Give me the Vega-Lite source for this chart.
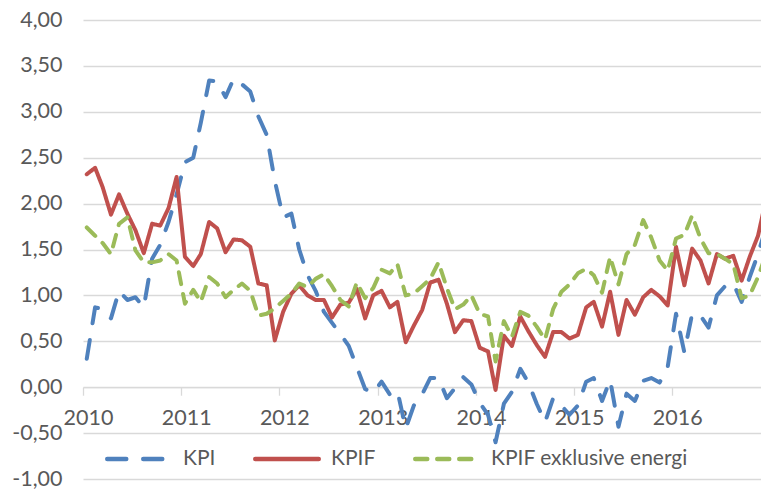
{
  "$schema": "https://vega.github.io/schema/vega-lite/v6.json",
  "width": 678,
  "height": 459,
  "autosize": {"type": "none"},
  "padding": {"left": 83, "top": 20, "right": 0, "bottom": 20},
  "background": "white",
  "config": {"view": {"stroke": null}, "font": "Lato"},
  "data": {"values": [
    {"m": "2010-01-15", "KPI": 0.31, "KPIF": 2.32, "KPIF exklusive energi": 1.74},
    {"m": "2010-02-15", "KPI": 0.87, "KPIF": 2.39, "KPIF exklusive energi": 1.65},
    {"m": "2010-03-15", "KPI": 0.85, "KPIF": 2.18, "KPIF exklusive energi": 1.57},
    {"m": "2010-04-15", "KPI": 0.75, "KPIF": 1.88, "KPIF exklusive energi": 1.45},
    {"m": "2010-05-15", "KPI": 1.05, "KPIF": 2.10, "KPIF exklusive energi": 1.78},
    {"m": "2010-06-15", "KPI": 0.95, "KPIF": 1.89, "KPIF exklusive energi": 1.85},
    {"m": "2010-07-15", "KPI": 0.98, "KPIF": 1.71, "KPIF exklusive energi": 1.49},
    {"m": "2010-08-15", "KPI": 0.87, "KPIF": 1.46, "KPIF exklusive energi": 1.36},
    {"m": "2010-09-15", "KPI": 1.40, "KPIF": 1.78, "KPIF exklusive energi": 1.36},
    {"m": "2010-10-15", "KPI": 1.55, "KPIF": 1.76, "KPIF exklusive energi": 1.38},
    {"m": "2010-11-15", "KPI": 1.80, "KPIF": 1.95, "KPIF exklusive energi": 1.45},
    {"m": "2010-12-15", "KPI": 2.10, "KPIF": 2.29, "KPIF exklusive energi": 1.38},
    {"m": "2011-01-15", "KPI": 2.45, "KPIF": 1.42, "KPIF exklusive energi": 0.91},
    {"m": "2011-02-15", "KPI": 2.50, "KPIF": 1.32, "KPIF exklusive energi": 1.06},
    {"m": "2011-03-15", "KPI": 2.88, "KPIF": 1.45, "KPIF exklusive energi": 0.93},
    {"m": "2011-04-15", "KPI": 3.34, "KPIF": 1.80, "KPIF exklusive energi": 1.20},
    {"m": "2011-05-15", "KPI": 3.33, "KPIF": 1.73, "KPIF exklusive energi": 1.13},
    {"m": "2011-06-15", "KPI": 3.16, "KPIF": 1.47, "KPIF exklusive energi": 0.98},
    {"m": "2011-07-15", "KPI": 3.36, "KPIF": 1.61, "KPIF exklusive energi": 1.06},
    {"m": "2011-08-15", "KPI": 3.30, "KPIF": 1.60, "KPIF exklusive energi": 1.13},
    {"m": "2011-09-15", "KPI": 3.22, "KPIF": 1.53, "KPIF exklusive energi": 1.05},
    {"m": "2011-10-15", "KPI": 2.95, "KPIF": 1.13, "KPIF exklusive energi": 0.78},
    {"m": "2011-11-15", "KPI": 2.75, "KPIF": 1.11, "KPIF exklusive energi": 0.80},
    {"m": "2011-12-15", "KPI": 2.25, "KPIF": 0.51, "KPIF exklusive energi": 0.86},
    {"m": "2012-01-15", "KPI": 1.85, "KPIF": 0.82, "KPIF exklusive energi": 0.94},
    {"m": "2012-02-15", "KPI": 1.89, "KPIF": 1.02, "KPIF exklusive energi": 1.02},
    {"m": "2012-03-15", "KPI": 1.50, "KPIF": 1.11, "KPIF exklusive energi": 1.13},
    {"m": "2012-04-15", "KPI": 1.22, "KPIF": 1.00, "KPIF exklusive energi": 1.09},
    {"m": "2012-05-15", "KPI": 1.05, "KPIF": 0.95, "KPIF exklusive energi": 1.18},
    {"m": "2012-06-15", "KPI": 0.82, "KPIF": 0.95, "KPIF exklusive energi": 1.23},
    {"m": "2012-07-15", "KPI": 0.70, "KPIF": 0.76, "KPIF exklusive energi": 1.10},
    {"m": "2012-08-15", "KPI": 0.58, "KPIF": 0.90, "KPIF exklusive energi": 0.95},
    {"m": "2012-09-15", "KPI": 0.45, "KPIF": 0.92, "KPIF exklusive energi": 0.88},
    {"m": "2012-10-15", "KPI": 0.22, "KPIF": 1.07, "KPIF exklusive energi": 1.14},
    {"m": "2012-11-15", "KPI": -0.02, "KPIF": 0.75, "KPIF exklusive energi": 0.97},
    {"m": "2012-12-15", "KPI": -0.06, "KPIF": 1.00, "KPIF exklusive energi": 1.08},
    {"m": "2013-01-15", "KPI": 0.06, "KPIF": 1.05, "KPIF exklusive energi": 1.28},
    {"m": "2013-02-15", "KPI": -0.08, "KPIF": 0.87, "KPIF exklusive energi": 1.24},
    {"m": "2013-03-15", "KPI": -0.04, "KPIF": 0.93, "KPIF exklusive energi": 1.34},
    {"m": "2013-04-15", "KPI": -0.45, "KPIF": 0.49, "KPIF exklusive energi": 1.00},
    {"m": "2013-05-15", "KPI": -0.20, "KPIF": 0.67, "KPIF exklusive energi": 1.02},
    {"m": "2013-06-15", "KPI": -0.08, "KPIF": 0.84, "KPIF exklusive energi": 1.10},
    {"m": "2013-07-15", "KPI": 0.10, "KPIF": 1.14, "KPIF exklusive energi": 1.18},
    {"m": "2013-08-15", "KPI": 0.10, "KPIF": 1.17, "KPIF exklusive energi": 1.36},
    {"m": "2013-09-15", "KPI": -0.12, "KPIF": 0.91, "KPIF exklusive energi": 1.08},
    {"m": "2013-10-15", "KPI": -0.01, "KPIF": 0.60, "KPIF exklusive energi": 0.85},
    {"m": "2013-11-15", "KPI": 0.11, "KPIF": 0.73, "KPIF exklusive energi": 0.90},
    {"m": "2013-12-15", "KPI": 0.03, "KPIF": 0.72, "KPIF exklusive energi": 1.00},
    {"m": "2014-01-15", "KPI": -0.17, "KPIF": 0.43, "KPIF exklusive energi": 0.80},
    {"m": "2014-02-15", "KPI": -0.30, "KPIF": 0.39, "KPIF exklusive energi": 0.77},
    {"m": "2014-03-15", "KPI": -0.60, "KPIF": -0.03, "KPIF exklusive energi": 0.28},
    {"m": "2014-04-15", "KPI": -0.18, "KPIF": 0.56, "KPIF exklusive energi": 0.72},
    {"m": "2014-05-15", "KPI": -0.05, "KPIF": 0.45, "KPIF exklusive energi": 0.55},
    {"m": "2014-06-15", "KPI": 0.20, "KPIF": 0.77, "KPIF exklusive energi": 0.82},
    {"m": "2014-07-15", "KPI": 0.05, "KPIF": 0.61, "KPIF exklusive energi": 0.78},
    {"m": "2014-08-15", "KPI": -0.18, "KPIF": 0.46, "KPIF exklusive energi": 0.66},
    {"m": "2014-09-15", "KPI": -0.38, "KPIF": 0.33, "KPIF exklusive energi": 0.52},
    {"m": "2014-10-15", "KPI": -0.12, "KPIF": 0.60, "KPIF exklusive energi": 0.85},
    {"m": "2014-11-15", "KPI": -0.20, "KPIF": 0.60, "KPIF exklusive energi": 1.04},
    {"m": "2014-12-15", "KPI": -0.30, "KPIF": 0.53, "KPIF exklusive energi": 1.12},
    {"m": "2015-01-15", "KPI": -0.20, "KPIF": 0.57, "KPIF exklusive energi": 1.24},
    {"m": "2015-02-15", "KPI": 0.06, "KPIF": 0.87, "KPIF exklusive energi": 1.29},
    {"m": "2015-03-15", "KPI": 0.10, "KPIF": 0.93, "KPIF exklusive energi": 1.22},
    {"m": "2015-04-15", "KPI": -0.15, "KPIF": 0.66, "KPIF exklusive energi": 1.03},
    {"m": "2015-05-15", "KPI": 0.08, "KPIF": 1.04, "KPIF exklusive energi": 1.42},
    {"m": "2015-06-15", "KPI": -0.43, "KPIF": 0.57, "KPIF exklusive energi": 1.12},
    {"m": "2015-07-15", "KPI": -0.07, "KPIF": 0.95, "KPIF exklusive energi": 1.45},
    {"m": "2015-08-15", "KPI": -0.15, "KPIF": 0.79, "KPIF exklusive energi": 1.55},
    {"m": "2015-09-15", "KPI": 0.07, "KPIF": 0.98, "KPIF exklusive energi": 1.82},
    {"m": "2015-10-15", "KPI": 0.10, "KPIF": 1.06, "KPIF exklusive energi": 1.63},
    {"m": "2015-11-15", "KPI": 0.05, "KPIF": 0.99, "KPIF exklusive energi": 1.38},
    {"m": "2015-12-15", "KPI": 0.22, "KPIF": 0.89, "KPIF exklusive energi": 1.27},
    {"m": "2016-01-15", "KPI": 0.80, "KPIF": 1.53, "KPIF exklusive energi": 1.62},
    {"m": "2016-02-15", "KPI": 0.38, "KPIF": 1.11, "KPIF exklusive energi": 1.66},
    {"m": "2016-03-15", "KPI": 0.80, "KPIF": 1.51, "KPIF exklusive energi": 1.87},
    {"m": "2016-04-15", "KPI": 0.78, "KPIF": 1.38, "KPIF exklusive energi": 1.62},
    {"m": "2016-05-15", "KPI": 0.65, "KPIF": 1.13, "KPIF exklusive energi": 1.46},
    {"m": "2016-06-15", "KPI": 1.00, "KPIF": 1.45, "KPIF exklusive energi": 1.45},
    {"m": "2016-07-15", "KPI": 1.10, "KPIF": 1.40, "KPIF exklusive energi": 1.40},
    {"m": "2016-08-15", "KPI": 1.13, "KPIF": 1.43, "KPIF exklusive energi": 1.34},
    {"m": "2016-09-15", "KPI": 0.93, "KPIF": 1.16, "KPIF exklusive energi": 0.97},
    {"m": "2016-10-15", "KPI": 1.20, "KPIF": 1.42, "KPIF exklusive energi": 1.00},
    {"m": "2016-11-15", "KPI": 1.45, "KPIF": 1.65, "KPIF exklusive energi": 1.20},
    {"m": "2016-12-15", "KPI": 1.75, "KPIF": 2.05, "KPIF exklusive energi": 1.45}
  ]},
  "transform": [
    {"fold": ["KPI", "KPIF", "KPIF exklusive energi"], "as": ["s", "v"]}
  ],
  "mark": {"type": "line", "strokeWidth": 4, "strokeCap": "round", "strokeJoin": "round", "clip": true},
  "encoding": {
    "x": {
      "field": "m", "type": "temporal",
      "scale": {"type": "utc", "domain": [{"year": 2010, "month": 1, "date": 1, "utc": true}, {"year": 2016, "month": 11, "date": 26, "utc": true}]},
      "axis": {
        "title": null, "orient": "bottom", "offset": -91.8, "format": "%Y", "grid": false,
        "values": [
          {"year": 2010, "month": 1, "date": 1, "utc": true},
          {"year": 2011, "month": 1, "date": 1, "utc": true},
          {"year": 2012, "month": 1, "date": 1, "utc": true},
          {"year": 2013, "month": 1, "date": 1, "utc": true},
          {"year": 2014, "month": 1, "date": 1, "utc": true},
          {"year": 2015, "month": 1, "date": 1, "utc": true},
          {"year": 2016, "month": 1, "date": 1, "utc": true}
        ],
        "labelOffset": 5, "labelAlign": "center", "labelBaseline": "top", "labelFlush": false, "labelOverlap": false,
        "tickSize": 8, "tickColor": "#d9d9d9", "tickWidth": 1.3,
        "domainColor": "#d9d9d9", "domainWidth": 1.3,
        "labelFont": "Lato", "labelFontSize": 21.5, "labelColor": "#595959", "labelPadding": 12
      }
    },
    "y": {
      "field": "v", "type": "quantitative",
      "scale": {"domain": [-1, 4], "nice": false, "zero": false},
      "axis": {
        "title": null, "values": [-1, -0.5, 0, 0.5, 1, 1.5, 2, 2.5, 3, 3.5, 4],
        "labelExpr": "replace(replace(format(datum.value, '.2f'), '.', ','), '\u2212', '-')",
        "grid": true, "gridColor": "#d9d9d9", "gridWidth": 1.3,
        "domain": false, "ticks": false, "labelPadding": 21,
        "labelFont": "Lato", "labelFontSize": 21.5, "labelColor": "#595959"
      }
    },
    "color": {
      "field": "s", "type": "nominal",
      "scale": {"domain": ["KPI", "KPIF", "KPIF exklusive energi"], "range": ["#4F81BD", "#C0504D", "#9BBB59"]},
      "legend": {
        "title": null, "orient": "none", "legendX": 22, "legendY": 405, "direction": "horizontal",
        "symbolType": "stroke", "symbolSize": 4032, "symbolStrokeWidth": 4.5,
        "labelFont": "Lato", "labelFontSize": 21, "labelColor": "#595959", "labelOffset": 10, "columnPadding": 30, "labelLimit": 500,
        "encode": {"symbols": {"update": {"strokeCap": {"value": "round"}}}}
      }
    },
    "strokeDash": {
      "field": "s", "type": "nominal",
      "scale": {"domain": ["KPI", "KPIF", "KPIF exklusive energi"], "range": [[19, 17], [1, 0], [12, 10]]},
      "legend": {
        "title": null, "orient": "none", "legendX": 22, "legendY": 405, "direction": "horizontal",
        "symbolType": "stroke", "symbolSize": 4032, "symbolStrokeWidth": 4.5,
        "labelFont": "Lato", "labelFontSize": 21, "labelColor": "#595959", "labelOffset": 10, "columnPadding": 30, "labelLimit": 500,
        "encode": {"symbols": {"update": {"strokeCap": {"value": "round"}}}}
      }
    }
  }
}
